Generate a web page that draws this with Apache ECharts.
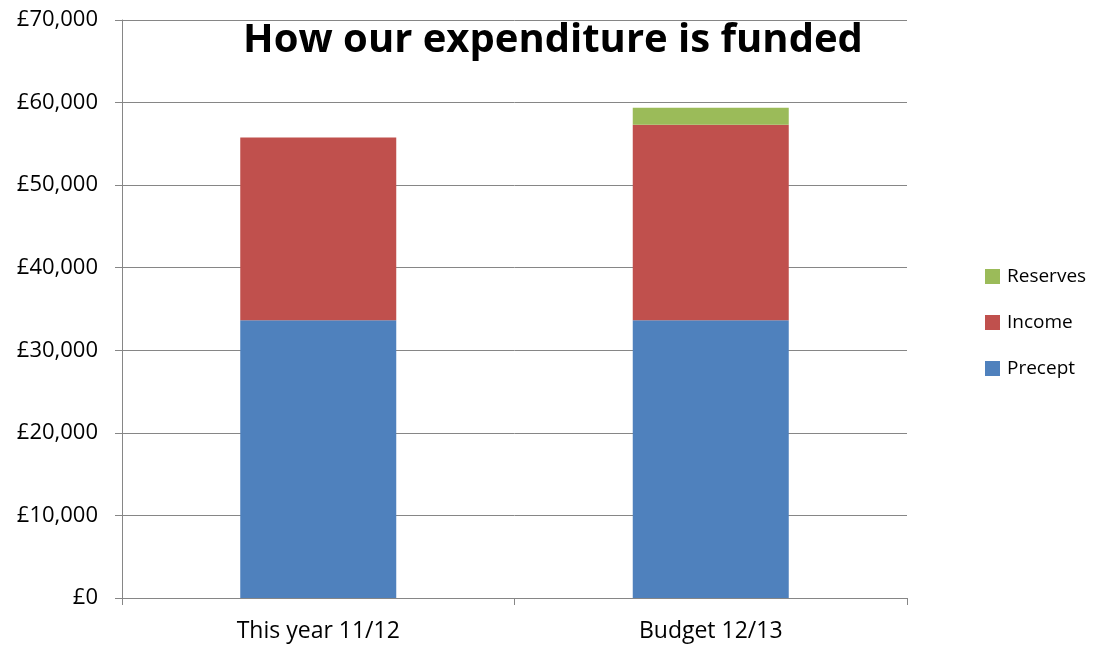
<!DOCTYPE html>
<html>
<head>
<meta charset="utf-8">
<script src="https://cdn.jsdelivr.net/npm/echarts@6/dist/echarts.min.js"></script>
<style>
html,body{margin:0;padding:0;background:#fff;}
#chart{width:1110px;height:650px;}
</style>
</head>
<body>
<div id="chart"></div>
<script>
const categories = ['This year 11/12', 'Budget 12/13'];
const precept = [33650, 33650];
const income = [22110, 23650];
const reserves = [null, 2060];
const yTicks = [0, 10000, 20000, 30000, 40000, 50000, 60000, 70000];

const FONT = '"Open Sans", "Noto Sans", sans-serif';
const chart = echarts.init(document.getElementById('chart'));
const fmt = v => '£' + v.toLocaleString('en-GB');
chart.setOption({
  animation: false,
  title: {
    text: 'How our expenditure is funded',
    left: 548, top: 16, textAlign: 'center',
    textStyle: {fontFamily: FONT, fontWeight: 'bold', fontSize: 40, color: '#000'}
  },
  legend: {
    orient: 'vertical', left: 980, top: 262, itemGap: 27,
    itemWidth: 15, itemHeight: 15, icon: 'rect',
    data: ['Reserves', 'Income', 'Precept'],
    textStyle: {fontFamily: FONT, fontSize: 19, color: '#000', padding: [0,0,0,2]}
  },
  grid: {left: 122, right: 203, top: 20, bottom: 52},
  xAxis: {
    type: 'category', data: categories,
    axisLine: {lineStyle: {color: '#868686', width: 1}},
    axisTick: {show: true, length: 7, lineStyle: {color: '#868686'}},
    axisLabel: {fontFamily: FONT, fontSize: 23, color: '#000', margin: 22}
  },
  yAxis: {
    type: 'value', min: yTicks[0], max: yTicks[yTicks.length - 1], interval: 10000,
    axisLine: {show: true, lineStyle: {color: '#868686', width: 1}},
    axisTick: {show: true, length: 7, lineStyle: {color: '#868686'}},
    splitLine: {lineStyle: {color: '#868686', width: 1}},
    axisLabel: {fontFamily: FONT, fontSize: 22, color: '#000', margin: 24, formatter: fmt}
  },
  series: [
    {name: 'Precept', type: 'bar', stack: 't', data: precept, barWidth: 156,
     itemStyle: {color: '#4F81BD'}},
    {name: 'Income', type: 'bar', stack: 't', data: income,
     itemStyle: {color: '#C0504D'}},
    {name: 'Reserves', type: 'bar', stack: 't', data: reserves,
     itemStyle: {color: '#9BBB59'}}
  ]
});
</script>
</body>
</html>
